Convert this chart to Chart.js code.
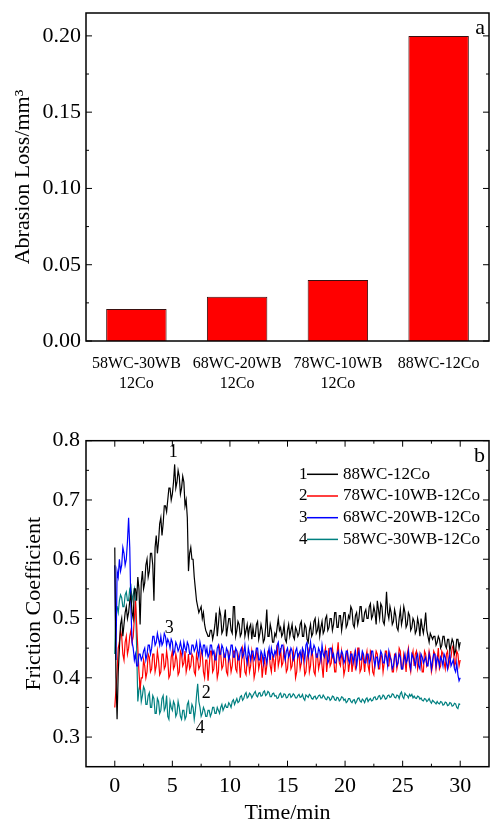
<!DOCTYPE html>
<html>
<head>
<meta charset="utf-8">
<script src="https://cdn.jsdelivr.net/npm/chart.js@4.4.0/dist/chart.umd.min.js"></script>
<style>
  html, body { margin: 0; padding: 0; background: #fff; overflow: hidden; width: 490px; height: 820px; }
  canvas { position: absolute; left: 0; }
</style>
</head>
<body>
<canvas id="chartA" width="490" height="410" style="top:0"></canvas>
<canvas id="chartB" width="490" height="420" style="top:410px"></canvas>
<script>
// ---- (a) abrasion loss ----
const alloys = [['58WC-30WB', '12Co'], ['68WC-20WB', '12Co'], ['78WC-10WB', '12Co'], '88WC-12Co'];
const abrasionLoss = [0.021, 0.029, 0.040, 0.200];
const lossTicks = [0.00, 0.05, 0.10, 0.15, 0.20];

// ---- (b) friction coefficient, readings evenly spaced from 0 to 30 min (about every 0.1 min) ----
const TEST_MIN = 30;
const timeTicks = [0, 5, 10, 15, 20, 25, 30];
const frictionTicks = [0.3, 0.4, 0.5, 0.6, 0.7, 0.8];
const seriesNames = ['88WC-12Co', '78WC-10WB-12Co', '68WC-20WB-12Co', '58WC-30WB-12Co'];
const seriesColors = ['#000000', '#ff0000', '#0000ff', '#008080'];

const mu88 = [
  0.62, 0.40, 0.33, 0.41, 0.45, 0.49, 0.50, 0.47, 0.49, 0.51, 0.52, 0.50, 0.51, 0.53, 0.54, 0.51, 0.50, 0.55, 0.55, 0.53,
  0.57, 0.55, 0.49, 0.56, 0.58, 0.55, 0.56, 0.59, 0.60, 0.57, 0.58, 0.61, 0.61, 0.59, 0.53, 0.62, 0.64, 0.61, 0.63, 0.66,
  0.67, 0.64, 0.66, 0.69, 0.69, 0.68, 0.70, 0.72, 0.72, 0.70, 0.71, 0.73, 0.76, 0.72, 0.73, 0.75, 0.74, 0.71, 0.72, 0.74,
  0.73, 0.69, 0.70, 0.67, 0.58, 0.61, 0.62, 0.60, 0.60, 0.57, 0.55, 0.53, 0.52, 0.51, 0.515, 0.52, 0.50, 0.51, 0.49, 0.48,
  0.475, 0.47, 0.47, 0.48, 0.48, 0.465, 0.475, 0.49, 0.51, 0.47, 0.49, 0.515, 0.505, 0.475, 0.48, 0.50, 0.515, 0.47, 0.485, 0.50,
  0.50, 0.48, 0.475, 0.52, 0.52, 0.47, 0.48, 0.495, 0.49, 0.47, 0.475, 0.50, 0.50, 0.47, 0.48, 0.49, 0.47, 0.485, 0.49, 0.465,
  0.485, 0.47, 0.47, 0.49, 0.495, 0.465, 0.475, 0.49, 0.48, 0.46, 0.465, 0.485, 0.515, 0.47, 0.47, 0.49, 0.48, 0.46, 0.46, 0.475,
  0.47, 0.485, 0.50, 0.48, 0.485, 0.47, 0.475, 0.49, 0.465, 0.46, 0.48, 0.49, 0.47, 0.48, 0.49, 0.47, 0.465, 0.485, 0.48, 0.47,
  0.475, 0.49, 0.495, 0.47, 0.47, 0.49, 0.485, 0.465, 0.46, 0.48, 0.49, 0.47, 0.475, 0.495, 0.50, 0.475, 0.48, 0.495, 0.47, 0.485,
  0.495, 0.475, 0.48, 0.50, 0.505, 0.48, 0.485, 0.50, 0.50, 0.48, 0.49, 0.51, 0.51, 0.485, 0.485, 0.505, 0.505, 0.48, 0.495, 0.51,
  0.51, 0.485, 0.49, 0.505, 0.50, 0.52, 0.515, 0.49, 0.485, 0.505, 0.51, 0.49, 0.50, 0.52, 0.52, 0.495, 0.495, 0.51, 0.515, 0.50,
  0.50, 0.52, 0.525, 0.50, 0.505, 0.52, 0.51, 0.49, 0.53, 0.515, 0.50, 0.525, 0.52, 0.495, 0.49, 0.51, 0.545, 0.51, 0.50, 0.52,
  0.51, 0.49, 0.495, 0.515, 0.505, 0.485, 0.48, 0.50, 0.515, 0.49, 0.50, 0.52, 0.51, 0.485, 0.49, 0.51, 0.505, 0.48, 0.485, 0.50,
  0.495, 0.475, 0.48, 0.50, 0.49, 0.47, 0.50, 0.485, 0.475, 0.49, 0.51, 0.48, 0.47, 0.46, 0.475, 0.47, 0.465, 0.47, 0.47, 0.455,
  0.46, 0.47, 0.465, 0.45, 0.455, 0.47, 0.47, 0.455, 0.45, 0.465, 0.465, 0.445, 0.455, 0.465, 0.46, 0.44, 0.445, 0.465, 0.465, 0.45,
  0.46
];
const mu78 = [
  0.35, 0.38, 0.41, 0.45, 0.46, 0.48, 0.47, 0.44, 0.43, 0.46, 0.47, 0.44, 0.45, 0.47, 0.48, 0.46, 0.47, 0.50, 0.53, 0.49,
  0.45, 0.41, 0.38, 0.40, 0.40, 0.43, 0.42, 0.40, 0.41, 0.44, 0.435, 0.41, 0.415, 0.44, 0.44, 0.41, 0.42, 0.445, 0.43, 0.405,
  0.41, 0.44, 0.44, 0.415, 0.42, 0.445, 0.43, 0.40, 0.405, 0.435, 0.445, 0.415, 0.42, 0.44, 0.43, 0.405, 0.41, 0.445, 0.44, 0.42,
  0.425, 0.445, 0.41, 0.42, 0.44, 0.415, 0.42, 0.44, 0.435, 0.41, 0.405, 0.44, 0.43, 0.415, 0.42, 0.445, 0.44, 0.41, 0.40, 0.43,
  0.43, 0.395, 0.42, 0.445, 0.445, 0.41, 0.415, 0.44, 0.43, 0.40, 0.41, 0.45, 0.44, 0.415, 0.42, 0.44, 0.435, 0.41, 0.405, 0.44,
  0.43, 0.41, 0.42, 0.445, 0.445, 0.415, 0.41, 0.44, 0.43, 0.40, 0.425, 0.45, 0.44, 0.41, 0.405, 0.43, 0.435, 0.41, 0.42, 0.445,
  0.43, 0.40, 0.41, 0.445, 0.44, 0.415, 0.425, 0.44, 0.40, 0.42, 0.435, 0.405, 0.42, 0.445, 0.445, 0.42, 0.41, 0.435, 0.43, 0.41,
  0.44, 0.455, 0.42, 0.43, 0.45, 0.42, 0.425, 0.45, 0.435, 0.41, 0.415, 0.44, 0.445, 0.415, 0.42, 0.445, 0.43, 0.40, 0.41, 0.44,
  0.44, 0.415, 0.425, 0.445, 0.43, 0.405, 0.41, 0.435, 0.445, 0.41, 0.42, 0.45, 0.435, 0.41, 0.405, 0.44, 0.44, 0.415, 0.425, 0.445,
  0.42, 0.40, 0.44, 0.45, 0.41, 0.43, 0.45, 0.42, 0.425, 0.45, 0.435, 0.41, 0.41, 0.44, 0.46, 0.425, 0.42, 0.445, 0.43, 0.405,
  0.415, 0.44, 0.445, 0.41, 0.425, 0.445, 0.41, 0.425, 0.44, 0.415, 0.42, 0.45, 0.45, 0.41, 0.415, 0.44, 0.43, 0.41, 0.435, 0.445,
  0.42, 0.41, 0.445, 0.44, 0.41, 0.405, 0.43, 0.445, 0.44, 0.415, 0.415, 0.44, 0.435, 0.41, 0.425, 0.445, 0.445, 0.42, 0.42, 0.44,
  0.43, 0.41, 0.41, 0.44, 0.44, 0.415, 0.425, 0.45, 0.445, 0.415, 0.415, 0.44, 0.43, 0.41, 0.44, 0.45, 0.42, 0.41, 0.435, 0.445,
  0.42, 0.44, 0.445, 0.415, 0.425, 0.44, 0.43, 0.41, 0.41, 0.445, 0.44, 0.42, 0.425, 0.445, 0.435, 0.41, 0.42, 0.445, 0.44, 0.415,
  0.43, 0.45, 0.415, 0.42, 0.445, 0.44, 0.425, 0.415, 0.44, 0.445, 0.42, 0.43, 0.435, 0.45, 0.455, 0.42, 0.425, 0.445, 0.44, 0.42,
  0.43
];
const mu68 = [
  0.59, 0.43, 0.58, 0.57, 0.60, 0.58, 0.59, 0.62, 0.61, 0.59, 0.60, 0.63, 0.67, 0.62, 0.52, 0.46, 0.45, 0.43, 0.44, 0.42,
  0.42, 0.44, 0.44, 0.43, 0.435, 0.445, 0.45, 0.43, 0.44, 0.455, 0.455, 0.44, 0.45, 0.47, 0.47, 0.455, 0.46, 0.475, 0.465, 0.455,
  0.47, 0.455, 0.46, 0.475, 0.47, 0.455, 0.465, 0.46, 0.45, 0.465, 0.46, 0.44, 0.445, 0.46, 0.455, 0.445, 0.45, 0.46, 0.45, 0.44,
  0.46, 0.45, 0.445, 0.46, 0.455, 0.44, 0.44, 0.455, 0.455, 0.445, 0.45, 0.46, 0.445, 0.435, 0.46, 0.45, 0.44, 0.455, 0.455, 0.44,
  0.45, 0.435, 0.44, 0.455, 0.455, 0.44, 0.445, 0.43, 0.43, 0.45, 0.455, 0.44, 0.44, 0.455, 0.45, 0.435, 0.435, 0.45, 0.445, 0.43,
  0.44, 0.455, 0.455, 0.435, 0.435, 0.45, 0.445, 0.43, 0.43, 0.445, 0.45, 0.435, 0.44, 0.455, 0.435, 0.425, 0.45, 0.44, 0.43, 0.445,
  0.445, 0.43, 0.435, 0.45, 0.45, 0.43, 0.43, 0.445, 0.44, 0.425, 0.445, 0.435, 0.425, 0.44, 0.45, 0.43, 0.45, 0.44, 0.435, 0.445,
  0.44, 0.455, 0.46, 0.44, 0.445, 0.455, 0.455, 0.44, 0.43, 0.445, 0.45, 0.435, 0.44, 0.45, 0.445, 0.43, 0.435, 0.445, 0.45, 0.435,
  0.44, 0.445, 0.43, 0.45, 0.445, 0.43, 0.455, 0.46, 0.435, 0.445, 0.46, 0.44, 0.445, 0.455, 0.45, 0.435, 0.435, 0.45, 0.445, 0.43,
  0.455, 0.44, 0.435, 0.445, 0.445, 0.425, 0.43, 0.45, 0.45, 0.435, 0.44, 0.425, 0.425, 0.44, 0.445, 0.43, 0.435, 0.445, 0.44, 0.425,
  0.43, 0.445, 0.445, 0.43, 0.425, 0.44, 0.44, 0.425, 0.435, 0.445, 0.42, 0.435, 0.445, 0.43, 0.43, 0.445, 0.44, 0.425, 0.425, 0.44,
  0.44, 0.425, 0.43, 0.445, 0.445, 0.43, 0.42, 0.435, 0.435, 0.42, 0.43, 0.445, 0.44, 0.425, 0.425, 0.44, 0.435, 0.42, 0.445, 0.435,
  0.43, 0.415, 0.42, 0.435, 0.44, 0.42, 0.425, 0.44, 0.435, 0.415, 0.415, 0.43, 0.44, 0.425, 0.43, 0.445, 0.425, 0.415, 0.44, 0.435,
  0.43, 0.42, 0.435, 0.44, 0.42, 0.415, 0.44, 0.435, 0.425, 0.43, 0.435, 0.42, 0.42, 0.44, 0.43, 0.415, 0.43, 0.44, 0.44, 0.42,
  0.435, 0.43, 0.42, 0.435, 0.43, 0.42, 0.44, 0.435, 0.425, 0.415, 0.43, 0.44, 0.42, 0.425, 0.43, 0.415, 0.41, 0.425, 0.405, 0.395,
  0.40
];
const mu58 = [
  0.44, 0.52, 0.52, 0.51, 0.53, 0.54, 0.535, 0.52, 0.52, 0.54, 0.545, 0.53, 0.53, 0.55, 0.555, 0.53, 0.54, 0.55, 0.53, 0.45,
  0.36, 0.38, 0.39, 0.36, 0.37, 0.385, 0.38, 0.355, 0.355, 0.37, 0.375, 0.35, 0.35, 0.37, 0.365, 0.34, 0.34, 0.365, 0.36, 0.34,
  0.345, 0.365, 0.37, 0.345, 0.35, 0.37, 0.335, 0.33, 0.36, 0.35, 0.345, 0.36, 0.355, 0.335, 0.34, 0.36, 0.35, 0.335, 0.33, 0.345,
  0.345, 0.33, 0.335, 0.355, 0.36, 0.34, 0.34, 0.355, 0.35, 0.33, 0.345, 0.37, 0.39, 0.36, 0.35, 0.335, 0.34, 0.35, 0.345, 0.335,
  0.335, 0.345, 0.345, 0.335, 0.34, 0.35, 0.35, 0.34, 0.34, 0.35, 0.345, 0.34, 0.35, 0.355, 0.345, 0.35, 0.355, 0.35, 0.35, 0.358,
  0.355, 0.35, 0.36, 0.363, 0.355, 0.36, 0.365, 0.358, 0.36, 0.368, 0.37, 0.362, 0.365, 0.372, 0.375, 0.366, 0.368, 0.374, 0.372, 0.366,
  0.37, 0.374, 0.377, 0.37, 0.368, 0.374, 0.375, 0.369, 0.37, 0.376, 0.378, 0.37, 0.372, 0.377, 0.375, 0.368, 0.368, 0.373, 0.374, 0.369,
  0.37, 0.365, 0.366, 0.372, 0.374, 0.367, 0.368, 0.373, 0.372, 0.366, 0.367, 0.372, 0.373, 0.367, 0.369, 0.373, 0.371, 0.366, 0.366, 0.37,
  0.372, 0.367, 0.368, 0.372, 0.365, 0.362, 0.371, 0.369, 0.367, 0.372, 0.37, 0.365, 0.364, 0.368, 0.369, 0.364, 0.366, 0.37, 0.371, 0.366,
  0.366, 0.371, 0.368, 0.364, 0.363, 0.368, 0.367, 0.362, 0.364, 0.369, 0.368, 0.363, 0.362, 0.367, 0.366, 0.361, 0.363, 0.368, 0.367, 0.362,
  0.364, 0.358, 0.36, 0.365, 0.365, 0.36, 0.358, 0.362, 0.363, 0.357, 0.36, 0.365, 0.366, 0.361, 0.359, 0.364, 0.362, 0.358, 0.364, 0.366,
  0.36, 0.363, 0.365, 0.361, 0.362, 0.367, 0.368, 0.363, 0.364, 0.369, 0.37, 0.364, 0.366, 0.371, 0.369, 0.364, 0.365, 0.37, 0.371, 0.367,
  0.368, 0.373, 0.372, 0.367, 0.366, 0.371, 0.37, 0.365, 0.373, 0.376, 0.368, 0.365, 0.374, 0.371, 0.37, 0.366, 0.372, 0.369, 0.372, 0.366,
  0.369, 0.366, 0.365, 0.369, 0.368, 0.364, 0.366, 0.362, 0.361, 0.365, 0.364, 0.36, 0.362, 0.365, 0.36, 0.357, 0.362, 0.36, 0.358, 0.356,
  0.36, 0.357, 0.356, 0.36, 0.359, 0.354, 0.355, 0.359, 0.358, 0.353, 0.354, 0.358, 0.357, 0.352, 0.353, 0.357, 0.356, 0.35, 0.348, 0.356,
  0.355
];
const frictionSeries = [mu88, mu78, mu68, mu58];

const SERIF = '"Liberation Serif", "DejaVu Serif", serif';

// 프레임 + 안쪽으로 향하는 눈금 (Origin 스타일)
const frameTicks = {
  id: 'frameTicks',
  afterDraw(chart, args, opts) {
    const ctx = chart.ctx;
    const a = chart.chartArea;
    ctx.save();
    ctx.strokeStyle = '#000';
    ctx.lineWidth = 1.5;
    ctx.strokeRect(a.left, a.top, a.right - a.left, a.bottom - a.top);
    ctx.lineWidth = 1;
    ctx.beginPath();
    const seg = (x1, y1, x2, y2) => { ctx.moveTo(x1, y1); ctx.lineTo(x2, y2); };

    const ys = chart.scales.y;
    const yp = ys.ticks.map(t => ys.getPixelForValue(t.value));
    yp.forEach(p => { seg(a.left, p, a.left + 6, p); seg(a.right, p, a.right - 6, p); });
    for (let i = 0; i < yp.length - 1; i++) {
      const m = (yp[i] + yp[i + 1]) / 2;
      seg(a.left, m, a.left + 3, m); seg(a.right, m, a.right - 3, m);
    }
    if (opts.xTicks) {
      const xs = chart.scales.x;
      const xp = xs.ticks.map(t => xs.getPixelForValue(t.value));
      xp.forEach(p => { seg(p, a.bottom, p, a.bottom - 6); seg(p, a.top, p, a.top + 6); });
      for (let i = 0; i < xp.length - 1; i++) {
        const m = (xp[i] + xp[i + 1]) / 2;
        seg(m, a.bottom, m, a.bottom - 3); seg(m, a.top, m, a.top + 3);
      }
    }
    ctx.stroke();

    // 패널 글자 (a / b)
    ctx.fillStyle = '#000';
    ctx.font = '22px ' + SERIF;
    ctx.textAlign = 'right';
    ctx.textBaseline = 'middle';
    ctx.fillText(opts.panel, a.right - 4, a.top + opts.panelDy);
    ctx.restore();
  }
};

// 곡선 번호 + 범례
const curveNotes = {
  id: 'curveNotes',
  afterDraw(chart, args, opts) {
    if (!opts.notes) return;
    const ctx = chart.ctx;
    const xs = chart.scales.x, ys = chart.scales.y;
    ctx.save();
    ctx.fillStyle = '#000';
    ctx.textBaseline = 'middle';
    ctx.font = '18px ' + SERIF;
    ctx.textAlign = 'center';
    opts.notes.forEach(n => {
      ctx.fillText(n.text, xs.getPixelForValue(n.t), ys.getPixelForValue(n.v));
    });
    // legend
    ctx.font = '17px ' + SERIF;
    seriesNames.forEach((name, i) => {
      const y = opts.legendTop + i * 21.7;
      ctx.textAlign = 'left';
      ctx.fillStyle = '#000';
      ctx.fillText(String(i + 1), opts.legendLeft, y);
      ctx.strokeStyle = seriesColors[i];
      ctx.lineWidth = 1.5;
      ctx.beginPath();
      ctx.moveTo(opts.legendLeft + 8, y);
      ctx.lineTo(opts.legendLeft + 39, y);
      ctx.stroke();
      ctx.fillText(name, opts.legendLeft + 44, y);
    });
    ctx.restore();
  }
};

// 축 자체 여백 제거 → chartArea 위치를 직접 맞춤
const noPad = s => { s.paddingTop = 0; s.paddingBottom = 0; s.paddingLeft = 0; s.paddingRight = 0; };

Chart.defaults.font.family = SERIF;
Chart.defaults.color = '#000';

new Chart(document.getElementById('chartA'), {
  type: 'bar',
  data: {
    labels: alloys,
    datasets: [{
      data: abrasionLoss,
      backgroundColor: '#ff0000',
      borderColor: '#3a1010',
      borderWidth: 1,
      barPercentage: 0.6,
      categoryPercentage: 1.0
    }]
  },
  options: {
    responsive: false,
    animation: false,
    layout: { padding: { left: 0, top: 13, right: 1, bottom: 0 } },
    plugins: {
      legend: { display: false },
      tooltip: { enabled: false },
      frameTicks: { xTicks: false, panel: 'a', panelDy: 15 },
      curveNotes: {}
    },
    scales: {
      x: {
        grid: { display: false, drawTicks: false },
        border: { display: false },
        ticks: { font: { size: 16, lineHeight: 1.3 }, padding: 12, maxRotation: 0, autoSkip: false },
        afterFit: s => { s.height = 69; noPad(s); }
      },
      y: {
        min: 0,
        max: 0.215,
        grid: { display: false, drawTicks: false },
        border: { display: false },
        afterBuildTicks: s => { s.ticks = lossTicks.map(v => ({ value: v })); },
        ticks: { font: { size: 22 }, padding: 5, callback: v => v.toFixed(2) },
        title: { display: true, text: 'Abrasion Loss/mm³', font: { size: 22 }, padding: { top: 10, bottom: 0 } },
        afterFit: s => { s.width = 86; noPad(s); }
      }
    }
  },
  plugins: [frameTicks, curveNotes]
});

new Chart(document.getElementById('chartB'), {
  type: 'line',
  data: {
    datasets: frictionSeries.map((vals, i) => ({
      label: seriesNames[i],
      data: vals.map((v, k) => ({ x: k * TEST_MIN / (vals.length - 1), y: v })),
      borderColor: seriesColors[i],
      borderWidth: 1.2,
      pointRadius: 0,
      tension: 0,
      order: [0, 2, 1, 3][i]
    }))
  },
  options: {
    responsive: false,
    animation: false,
    layout: { padding: { left: 0, top: 30.7, right: 1, bottom: 0 } },
    plugins: {
      legend: { display: false },
      tooltip: { enabled: false },
      frameTicks: { xTicks: true, panel: 'b', panelDy: 16 },
      curveNotes: {
        notes: [
          { text: '1', t: 5.07, v: 0.781 },
          { text: '3', t: 4.73, v: 0.484 },
          { text: '2', t: 7.95, v: 0.374 },
          { text: '4', t: 7.42, v: 0.315 }
        ],
        legendLeft: 299,
        legendTop: 64.3
      }
    },
    scales: {
      x: {
        type: 'linear',
        min: -2.5,
        max: 32.5,
        grid: { display: false, drawTicks: false },
        border: { display: false },
        afterBuildTicks: s => { s.ticks = timeTicks.map(v => ({ value: v })); },
        ticks: { font: { size: 22 }, padding: 6, maxRotation: 0 },
        title: { display: true, text: 'Time/min', font: { size: 22 }, padding: { top: 0, bottom: 4 } },
        afterFit: s => { s.height = 63.3; noPad(s); }
      },
      y: {
        min: 0.25,
        max: 0.8,
        grid: { display: false, drawTicks: false },
        border: { display: false },
        afterBuildTicks: s => { s.ticks = frictionTicks.map(v => ({ value: v })); },
        ticks: { font: { size: 22 }, padding: 6, callback: v => v.toFixed(1) },
        title: { display: true, text: 'Friction Coefficient', font: { size: 22 }, padding: { top: 21, bottom: 0 } },
        afterFit: s => { s.width = 86; noPad(s); }
      }
    }
  },
  plugins: [frameTicks, curveNotes]
});
</script>
</body>
</html>
